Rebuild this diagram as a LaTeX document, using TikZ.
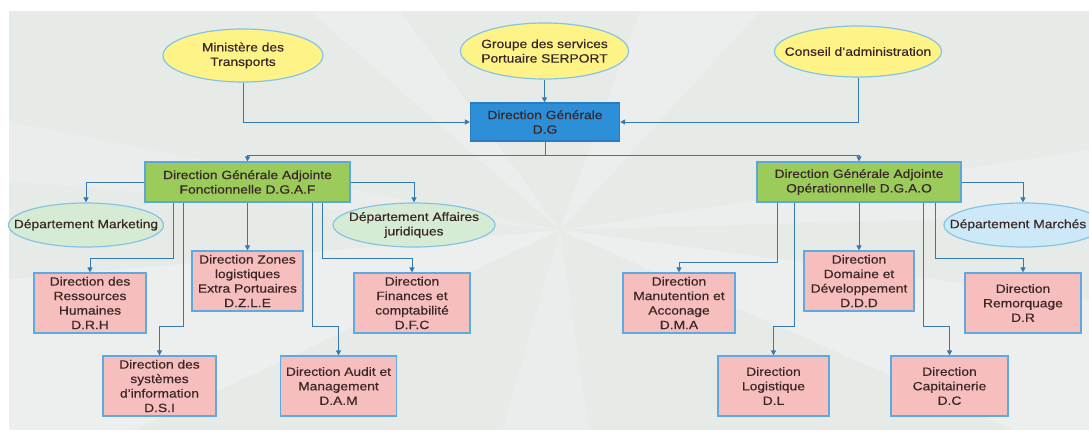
\documentclass[tikz,border=0pt]{standalone}
\usepackage{fontspec}
\setmainfont[FakeStretch=1.15,FakeBold=0.4]{Liberation Sans}
\usetikzlibrary{shapes.geometric,arrows.meta,calc}
\definecolor{bgc}{HTML}{E7EBE8}
\definecolor{txt}{HTML}{3A2626}
\definecolor{lnc}{HTML}{3579B1}
\definecolor{yel}{HTML}{FEF386}
\definecolor{yelb}{HTML}{86C3E4}
\definecolor{dgf}{HTML}{2E8FD9}
\definecolor{dgb}{HTML}{2A7CC0}
\definecolor{grf}{HTML}{9BCB5B}
\definecolor{grb}{HTML}{5BA8D8}
\definecolor{pkf}{HTML}{F7BEBE}
\definecolor{pkb}{HTML}{5EAAE0}
\definecolor{lgf}{HTML}{D6EBD3}
\definecolor{lbf}{HTML}{CDE9F7}
\tikzset{
  ellbox/.style={ellipse, draw=yelb, line width=1.2pt, fill=yel, inner sep=0pt},
  lbl/.style={align=center, text=txt, inner sep=0pt},
  pinkbox/.style={rectangle, draw=pkb, line width=1.2pt, fill=pkf, align=center, text=txt, inner sep=0pt, minimum height=60pt},
  greenbox/.style={rectangle, draw=grb, line width=1.2pt, fill=grf, align=center, text=txt, inner sep=0pt, minimum height=40pt, minimum width=205pt},
  arr/.style={draw=lnc, line width=1pt, -{Triangle[length=5pt,width=5pt]}},
}
\begin{document}
\begin{tikzpicture}[x=1pt,y=-1pt,font=\fontsize{12}{14.5}\selectfont]
\useasboundingbox (0,0) rectangle (1089,437);
\fill[white] (0,0) rectangle (1089,437);
\fill[bgc] (8.5,11) rectangle (1089,430);
\begin{scope}
\clip (8.5,11) rectangle (1089,430);
\fill[white,opacity=0.22] (560,230) -- (0,280) -- (0,437) -- (120,437) -- cycle;
\fill[white,opacity=0.18] (560,230) -- (310,11) -- (400,11) -- cycle;
\fill[white,opacity=0.18] (560,230) -- (640,11) -- (760,11) -- cycle;
\fill[white,opacity=0.18] (560,230) -- (1089,150) -- (1089,215) -- cycle;
\fill[white,opacity=0.22] (560,230) -- (1030,437) -- (1089,437) -- (1089,300) -- cycle;
\fill[white,opacity=0.15] (560,230) -- (0,120) -- (0,180) -- cycle;
\fill[white,opacity=0.15] (560,230) -- (500,437) -- (590,437) -- cycle;
\end{scope}
% top ellipses
\node[ellbox, minimum width=160pt, minimum height=53pt] (min) at (243,55.5) {};
\node[lbl] at (min) {Ministère des\\Transports};
\node[ellbox, minimum width=168pt, minimum height=56pt] (grp) at (544.5,51) {};
\node[lbl] at (grp) {Groupe des services\\Portuaire SERPORT};
\node[ellbox, minimum width=167pt, minimum height=51pt] (con) at (858,51.5) {};
\node[lbl] at (con) {Conseil d'administration};
% DG
\node[rectangle, draw=dgb, line width=1.2pt, fill=dgf, align=center, text=txt, inner sep=0pt, minimum width=149pt, minimum height=38pt] (DG) at (545,122) {Direction Générale\\D.G};
% DGA
\node[greenbox] (DGAF) at (247.5,182) {Direction Générale Adjointe\\Fonctionnelle D.G.A.F};
\node[greenbox, minimum width=204pt] (DGAO) at (859,182) {Direction Générale Adjointe\\Opérationnelle D.G.A.O};
% departments
\node[ellbox, fill=lgf, minimum width=155pt, minimum height=44pt] (mkt) at (86,225) {};
\node[lbl] at (mkt) {Département Marketing};
\node[ellbox, fill=lgf, minimum width=162pt, minimum height=44pt] (jur) at (414,225) {};
\node[lbl] at (jur) {Département Affaires\\juridiques};
\node[ellbox, fill=lbf, minimum width=158pt, minimum height=44pt] (mar) at (1023,225) {};
\node[lbl] at (1018,225) {Département Marchés};
% left directions
\node[pinkbox, minimum width=112pt] (DRH) at (90,303) {Direction des\\Ressources\\Humaines\\D.R.H};
\node[pinkbox, minimum width=113pt] (DSI) at (159.5,386) {Direction des\\systèmes\\d'information\\D.S.I};
\node[pinkbox, minimum width=111pt] (DZLE) at (247.5,281) {Direction Zones\\logistiques\\Extra Portuaires\\D.Z.L.E};
\node[pinkbox, minimum width=116pt] (DAM) at (338.5,386) {Direction Audit et\\Management\\D.A.M};
\node[pinkbox, minimum width=116pt] (DFC) at (412,303) {Direction\\Finances et\\comptabilité\\D.F.C};
% right directions
\node[pinkbox, minimum width=112pt] (DMA) at (679,303) {Direction\\Manutention et\\Acconage\\D.M.A};
\node[pinkbox, minimum width=111pt] (DL) at (773.5,386) {Direction\\Logistique\\D.L};
\node[pinkbox, minimum width=110pt] (DDD) at (859,281) {Direction\\Domaine et\\Développement\\D.D.D};
\node[pinkbox, minimum width=117pt] (DC) at (949.5,386) {Direction\\Capitainerie\\D.C};
\node[pinkbox, minimum width=116pt] (DR) at (1023,303) {Direction\\Remorquage\\D.R};
% connectors top
\draw[arr] (grp.south) -- (grp.south |- DG.north);
\draw[arr] (min.south) |- (DG.west);
\draw[arr] (con.south) |- (DG.east);
\draw[arr] (DG.south) -- ++(0,14) -| (DGAF.north);
\draw[arr] (DG.south) -- ++(0,14) -| (DGAO.north);
% DGAF
\draw[arr] (DGAF.west) -| (mkt.north);
\draw[arr] (DGAF.east) -| (jur.north);
\draw[arr] ([xshift=-74pt]DGAF.south) -- ++(0,56) -| (DRH.north);
\draw[arr] ([xshift=-64pt]DGAF.south) -- ++(0,124) -| (DSI.north);
\draw[arr] (DGAF.south) -- (DGAF.south |- DZLE.north);
\draw[arr] ([xshift=64.5pt]DGAF.south) -- ++(0,124) -| (DAM.north);
\draw[arr] ([xshift=75pt]DGAF.south) -- ++(0,56) -| (DFC.north);
% DGAO
\draw[arr] (DGAO.east) -| (mar.north);
\draw[arr] ([xshift=-82pt]DGAO.south) -- ++(0,60) -| (DMA.north);
\draw[arr] ([xshift=-64.5pt]DGAO.south) -- ++(0,124) -| (DL.north);
\draw[arr] (DGAO.south) -- (DGAO.south |- DDD.north);
\draw[arr] ([xshift=64pt]DGAO.south) -- ++(0,124) -| (DC.north);
\draw[arr] ([xshift=76pt]DGAO.south) -- ++(0,56) -| (DR.north);
\end{tikzpicture}
\end{document}
